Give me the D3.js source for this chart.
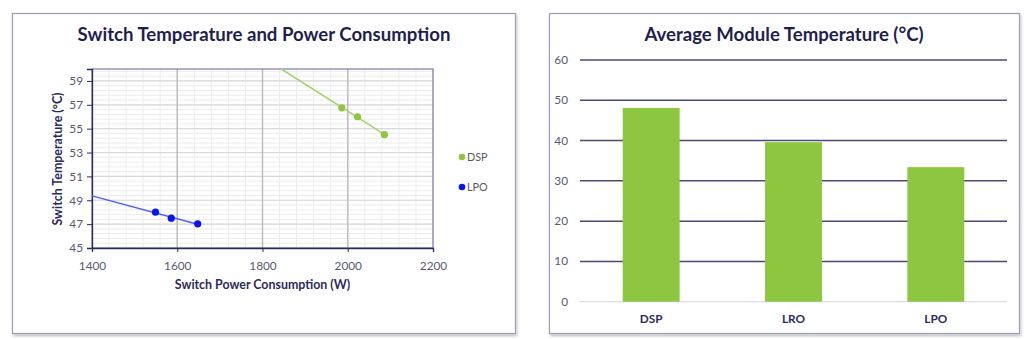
<!DOCTYPE html>
<html><head><meta charset="utf-8">
<script src="https://cdn.jsdelivr.net/npm/d3@7"></script>
<style>
html,body{margin:0;padding:0;background:#fff;}
svg{display:block;font-family:Lato,"Open Sans",sans-serif;}
</style></head>
<body>
<svg id="c" width="1024" height="339"></svg>
<script>
// ---- Data ----
const dspPower = [1986, 2023, 2086];
const dspTemp  = [56.75, 56.0, 54.5];
const lpoPower = [1549, 1586, 1648];
const lpoTemp  = [48.0, 47.5, 47.03];
const xTicks = [1400, 1600, 1800, 2000, 2200];
const yTicks = [45, 47, 49, 51, 53, 55, 57, 59];
const barCategories = ["DSP", "LRO", "LPO"];
const barValues = [48.1, 39.6, 33.4];
const barTicks = [0, 10, 20, 30, 40, 50, 60];

const svg = d3.select("#c");
const navy = "#2b2b63";
const tickCol = "#595970";

// shadow filter
const defs = svg.append("defs");
const f = defs.append("filter").attr("id","sh").attr("x","-5%").attr("y","-5%").attr("width","110%").attr("height","115%");
f.append("feDropShadow").attr("dx",1).attr("dy",2).attr("stdDeviation",1.5).attr("flood-color","#000").attr("flood-opacity",0.25);

// panels
svg.append("rect").attr("x",12.5).attr("y",13.5).attr("width",503).attr("height",320)
  .attr("fill","#fff").attr("stroke","#9d9db5").attr("stroke-width",1.2).attr("filter","url(#sh)");
svg.append("rect").attr("x",549.5).attr("y",13.5).attr("width",470).attr("height",320)
  .attr("fill","#fff").attr("stroke","#9d9db5").attr("stroke-width",1.2).attr("filter","url(#sh)");

// ---------- Left scatter ----------
const L = {l:92, r:433, t:69, b:248};
const x = d3.scaleLinear().domain([1400,2200]).range([L.l, L.r]);
const y = d3.scaleLinear().domain([45,60]).range([L.b, L.t]);
const g = svg.append("g");

// minor gridlines
g.append("g").selectAll("line").data(d3.range(1400,2201,40)).join("line")
  .attr("x1",d=>x(d)).attr("x2",d=>x(d)).attr("y1",L.t).attr("y2",L.b)
  .attr("stroke","#ececec").attr("stroke-width",1);
g.append("g").selectAll("line").data(d3.range(45,60.001,0.4)).join("line")
  .attr("y1",d=>y(d)).attr("y2",d=>y(d)).attr("x1",L.l).attr("x2",L.r)
  .attr("stroke","#ececec").attr("stroke-width",1);
// major gridlines
g.append("g").selectAll("line").data(yTicks).join("line")
  .attr("y1",d=>y(d)).attr("y2",d=>y(d)).attr("x1",L.l).attr("x2",L.r)
  .attr("stroke","#d9d9d9").attr("stroke-width",1.2);
g.append("g").selectAll("line").data(xTicks.slice(1,-1)).join("line")
  .attr("x1",d=>x(d)).attr("x2",d=>x(d)).attr("y1",L.t).attr("y2",L.b)
  .attr("stroke","#bdbdbd").attr("stroke-width",1.5);

// plot border
g.append("rect").attr("x",L.l).attr("y",L.t).attr("width",L.r-L.l).attr("height",L.b-L.t)
  .attr("fill","none").attr("stroke","#6e6ea0").attr("stroke-width",1.1);

// axes
const xAxis = g.append("g").attr("transform",`translate(0,${L.b})`)
  .call(d3.axisBottom(x).tickValues(xTicks).tickSize(4).tickFormat(d3.format("d")));
const yAxis = g.append("g").attr("transform",`translate(${L.l},0)`)
  .call(d3.axisLeft(y).tickValues(yTicks).tickSize(5));
[xAxis,yAxis].forEach(a=>{
  a.select(".domain").attr("stroke",navy).attr("stroke-width",1.3);
  a.selectAll(".tick line").attr("stroke",navy);
  a.selectAll("text").attr("fill",tickCol).attr("font-size",11.8).attr("font-family","Lato, sans-serif");
});
xAxis.selectAll("text").attr("dy","1.3em");
yAxis.selectAll("text").attr("dx","-1px");

// trendlines (least squares from the data)
function fit(xs, ys){
  const mx=d3.mean(xs), my=d3.mean(ys);
  const s=d3.sum(xs,(v,i)=>(v-mx)*(ys[i]-my))/d3.sum(xs,v=>(v-mx)*(v-mx));
  return v=>my+s*(v-mx);
}
const fD = fit(dspPower, dspTemp), fL = fit(lpoPower, lpoTemp);
const dspStart = d3.scaleLinear().domain([fD(1400),fD(2200)]).range([1400,2200])(60);
g.append("line").attr("x1",x(dspStart)).attr("y1",y(60)).attr("x2",x(d3.max(dspPower))).attr("y2",y(fD(d3.max(dspPower))))
  .attr("stroke","#a5d46a").attr("stroke-width",1.5);
g.append("line").attr("x1",x(1400)).attr("y1",y(fL(1400))).attr("x2",x(d3.max(lpoPower))).attr("y2",y(fL(d3.max(lpoPower))))
  .attr("stroke","#4f5fff").attr("stroke-width",1.5);

g.append("g").selectAll("circle").data(dspPower).join("circle")
  .attr("cx",d=>x(d)).attr("cy",(d,i)=>y(dspTemp[i])).attr("r",3.6).attr("fill","#8dc63f");
g.append("g").selectAll("circle").data(lpoPower).join("circle")
  .attr("cx",d=>x(d)).attr("cy",(d,i)=>y(lpoTemp[i])).attr("r",3.6).attr("fill","#0a14f0");

// legend
const leg = [{n:"DSP",c:"#8dc63f",y:157},{n:"LPO",c:"#0a14f0",y:187}];
leg.forEach(o=>{
  g.append("circle").attr("cx",462).attr("cy",o.y).attr("r",3.3).attr("fill",o.c);
  g.append("text").attr("x",467).attr("y",o.y+4).text(o.n).attr("font-size",10.8).attr("fill","#595959");
});

// titles
g.append("text").attr("x",264).attr("y",41).attr("text-anchor","middle")
  .attr("font-size",18.6).attr("font-weight","bold").attr("fill","#1f1f4f")
  .text("Switch Temperature and Power Consumption");
g.append("text").attr("x",262.5).attr("y",289).attr("text-anchor","middle")
  .attr("font-size",12.4).attr("font-weight","bold").attr("fill","#2b2b5c")
  .text("Switch Power Consumption (W)");
g.append("text").attr("transform","translate(62,159) rotate(-90)").attr("text-anchor","middle")
  .attr("font-size",12.4).attr("font-weight","bold").attr("fill","#2b2b5c")
  .text("Switch Temperature (°C)");

// ---------- Right bar chart ----------
const R = {l:580, r:1007, t:60, b:301.7};
const xb = d3.scaleBand().domain(barCategories).range([R.l,R.r]).paddingInner(0.6).paddingOuter(0.3);
const yb = d3.scaleLinear().domain([0,60]).range([R.b,R.t]);
const h = svg.append("g");
h.append("g").selectAll("line").data(barTicks).join("line")
  .attr("x1",R.l).attr("x2",R.r).attr("y1",d=>yb(d)).attr("y2",d=>yb(d))
  .attr("stroke",d=>d===0?"#d4d4ea":"#4a4a78").attr("stroke-width",d=>d===0?1:1.5);
h.append("g").selectAll("rect").data(barValues).join("rect")
  .attr("x",(d,i)=>xb(barCategories[i])).attr("width",xb.bandwidth())
  .attr("y",d=>yb(d)).attr("height",d=>yb(0)-yb(d)).attr("fill","#8dc63f");
h.append("g").selectAll("text").data(barTicks).join("text")
  .attr("x",568).attr("y",d=>yb(d)+4).attr("text-anchor","end")
  .attr("font-size",11.8).attr("fill",tickCol).text(d=>d);
h.append("g").selectAll("text").data(barCategories).join("text")
  .attr("x",d=>xb(d)+xb.bandwidth()/2).attr("y",323).attr("text-anchor","middle")
  .attr("font-size",11.8).attr("font-weight","bold").attr("fill","#2b2b5c").text(d=>d);
h.append("text").attr("x",784).attr("y",41).attr("text-anchor","middle")
  .attr("font-size",18.6).attr("font-weight","bold").attr("fill","#1f1f4f")
  .text("Average Module Temperature (°C)");
</script>
</body></html>
